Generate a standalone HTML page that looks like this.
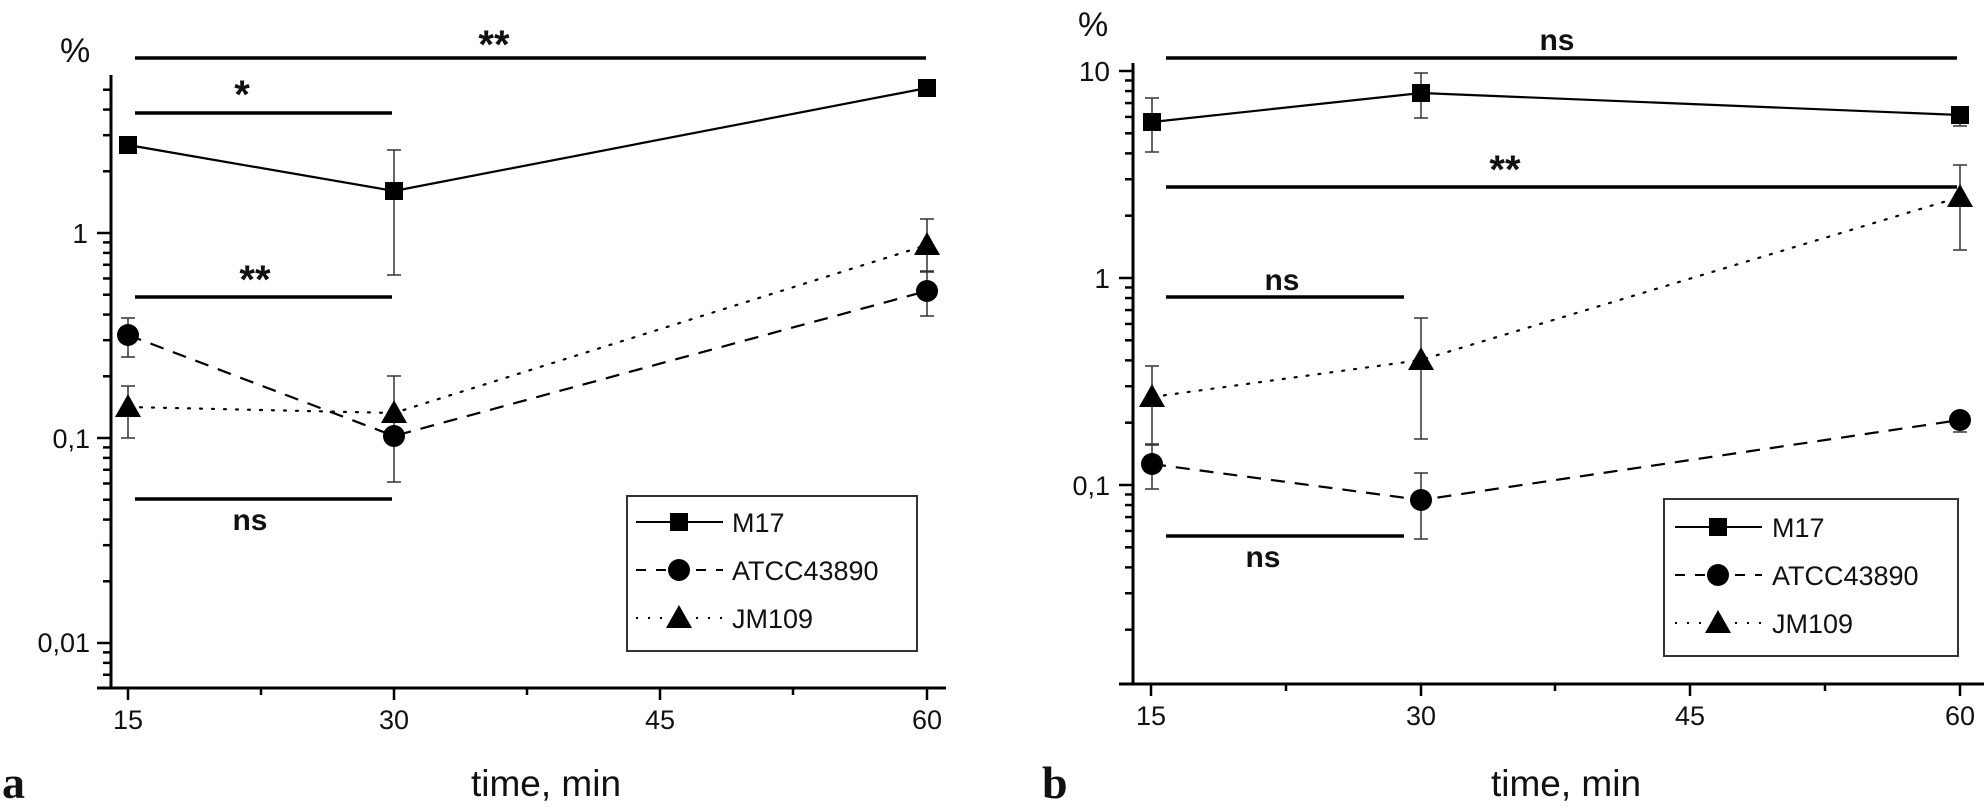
<!DOCTYPE html>
<html><head><meta charset="utf-8"><style>
html,body{margin:0;padding:0;background:#fff;}
svg{display:block;}
text{font-family:"Liberation Sans",Arial,sans-serif;fill:#111;}
</style></head><body>
<svg id="s" width="1984" height="808" xmlns="http://www.w3.org/2000/svg">
<g id="g"></g>
<!-- Panel a text -->
<text x="60" y="62" font-size="34">%</text>
<text x="88" y="243" font-size="28" text-anchor="end">1</text>
<text x="90" y="448" font-size="27" text-anchor="end">0,1</text>
<text x="90" y="652" font-size="27" text-anchor="end">0,01</text>
<text x="128" y="729" font-size="27" text-anchor="middle">15</text>
<text x="394" y="729" font-size="27" text-anchor="middle">30</text>
<text x="660" y="729" font-size="27" text-anchor="middle">45</text>
<text x="927" y="729" font-size="27" text-anchor="middle">60</text>
<text x="546" y="796" font-size="37" text-anchor="middle">time, min</text>
<text x="2" y="798" font-size="46" font-weight="bold" style="font-family:'Liberation Serif',serif">a</text>
<text x="494" y="58" font-size="40" font-weight="bold" text-anchor="middle">**</text>
<text x="242" y="108" font-size="40" font-weight="bold" text-anchor="middle">*</text>
<text x="255" y="293" font-size="40" font-weight="bold" text-anchor="middle">**</text>
<text x="250" y="530" font-size="30" font-weight="bold" text-anchor="middle">ns</text>
<text x="732" y="532" font-size="27">M17</text>
<text x="732" y="580" font-size="27">ATCC43890</text>
<text x="732" y="628" font-size="27">JM109</text>
<!-- Panel b text -->
<text x="1078" y="36" font-size="34">%</text>
<text x="1110" y="81" font-size="28" text-anchor="end">10</text>
<text x="1110" y="288" font-size="28" text-anchor="end">1</text>
<text x="1110" y="495" font-size="27" text-anchor="end">0,1</text>
<text x="1151" y="725" font-size="27" text-anchor="middle">15</text>
<text x="1421" y="725" font-size="27" text-anchor="middle">30</text>
<text x="1690" y="725" font-size="27" text-anchor="middle">45</text>
<text x="1960" y="725" font-size="27" text-anchor="middle">60</text>
<text x="1566" y="796" font-size="37" text-anchor="middle">time, min</text>
<text x="1042" y="798" font-size="46" font-weight="bold" style="font-family:'Liberation Serif',serif">b</text>
<text x="1557" y="50" font-size="30" font-weight="bold" text-anchor="middle">ns</text>
<text x="1505" y="183" font-size="40" font-weight="bold" text-anchor="middle">**</text>
<text x="1282" y="290" font-size="30" font-weight="bold" text-anchor="middle">ns</text>
<text x="1263" y="567" font-size="30" font-weight="bold" text-anchor="middle">ns</text>
<text x="1772" y="537" font-size="27">M17</text>
<text x="1772" y="585" font-size="27">ATCC43890</text>
<text x="1772" y="633" font-size="27">JM109</text>
</svg>
<script>
var g=document.getElementById('g');var NS='http://www.w3.org/2000/svg';
function el(t,a){var e=document.createElementNS(NS,t);for(var k in a)e.setAttribute(k,a[k]);g.appendChild(e);return e;}
function line(x1,y1,x2,y2,w,c,d){var a={x1:x1,y1:y1,x2:x2,y2:y2,stroke:c||'#000','stroke-width':w||2};if(d){a['stroke-dasharray']=d;}el('line',a);}
function poly(pts,d,cap){el('polyline',{points:pts.map(function(p){return p.join(',')}).join(' '),fill:'none',stroke:'#000','stroke-width':2.2,'stroke-dasharray':d||'none','stroke-linecap':cap||'butt'});}
function sq(x,y){el('rect',{x:x-9,y:y-9,width:18,height:18,fill:'#000'});}
function ci(x,y){el('circle',{cx:x,cy:y,r:11,fill:'#000'});}
function tr(x,y){el('polygon',{points:(x-13)+','+(y+10)+' '+(x+13)+','+(y+10)+' '+x+','+(y-13),fill:'#000'});}
function eb(x,y1,y2){line(x,y1,x,y2,1.5,'#333');line(x-7,y1,x+7,y1,1.5,'#333');line(x-7,y2,x+7,y2,1.5,'#333');}
function axes(ax,top,bot,xr,y0,dec,yv0,xt,xminor){
 line(ax,top,ax,bot+1,3);line(ax-14,bot,xr,bot,3);
 for(var n=-3;n<=1;n++)for(var k=1;k<=9;k++){var v=k*Math.pow(10,n);var y=y0-dec*Math.log10(v);if(y<top-1||y>bot-2)continue;line(k==1?ax-14:ax-8,y,ax,y,2.5);}
 xt.forEach(function(x){line(x,bot,x,bot+12,2.5);});xminor.forEach(function(x){line(x,bot,x,bot+7,2.5);});
}
// Panel a
axes(111,75,688,946,233,205,0,[128,394,660,927],[261,527,793]);
line(135,58,926,58,3.5);line(135,113,392,113,3.5);line(135,297,392,297,3.5);line(135,499,392,499,3.5);
eb(394,150,275);eb(128,318,357);eb(394,376,482);eb(128,386,438);eb(927,219,272);eb(927,271,316);eb(927,84,94);
poly([[128,145],[394,191],[927,88]]);
poly([[128,335],[394,436],[927,291]],'14 10');
poly([[128,407],[394,413],[927,245]],'2 10','round');
sq(128,145);sq(394,191);sq(927,88);ci(128,335);ci(394,436);ci(927,291);tr(128,407);tr(394,413);tr(927,245);
el('rect',{x:627,y:496,width:290,height:155,fill:'none',stroke:'#333','stroke-width':2});
line(636,522,723,522,2);sq(679,522);line(636,570,723,570,2,'#000','10 10');ci(679,570);line(636,618,723,618,2,'#000','2 10');tr(679,618);
// Panel b
axes(1133,63,684,1985,278,207,0,[1151,1421,1690,1960],[1286,1555,1825]);
line(1166,58,1957,58,3.5);line(1166,187,1957,187,3.5);line(1166,297,1404,297,3.5);line(1166,536,1404,536,3.5);
eb(1152,98,152);eb(1421,73,118);eb(1960,110,126);eb(1152,445,489);eb(1421,473,539);eb(1960,412,432);eb(1152,366,444);eb(1421,318,439);eb(1960,165,250);
poly([[1152,122],[1421,93],[1960,115]]);
poly([[1152,464],[1421,500],[1960,420]],'14 10');
poly([[1152,397],[1421,360],[1960,197]],'2 10','round');
sq(1152,122);sq(1421,93);sq(1960,115);ci(1152,464);ci(1421,500);ci(1960,420);tr(1152,397);tr(1421,360);tr(1960,197);
el('rect',{x:1664,y:499,width:294,height:157,fill:'none',stroke:'#333','stroke-width':2});
line(1675,527,1762,527,2);sq(1718,527);line(1675,575,1762,575,2,'#000','10 10');ci(1718,575);line(1675,623,1762,623,2,'#000','2 10');tr(1718,623);
</script>
</body></html>
